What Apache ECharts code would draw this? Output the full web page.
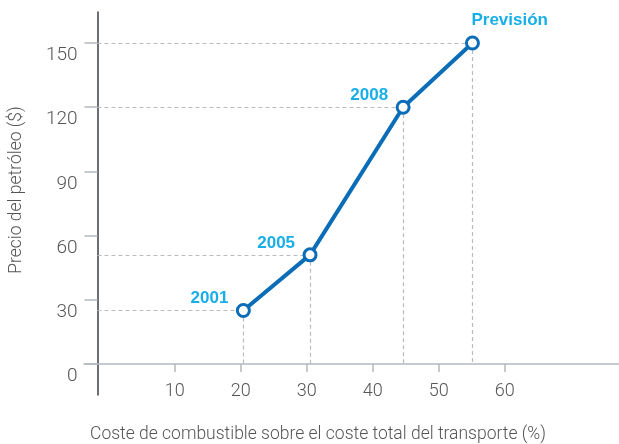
<!DOCTYPE html>
<html>
<head>
<meta charset="utf-8">
<script src="https://cdn.jsdelivr.net/npm/echarts@6/dist/echarts.min.js"></script>
<style>
  html, body { margin: 0; padding: 0; background: #fff; }
  #chart { width: 619px; height: 444px; }
</style>
</head>
<body>
<div id="chart"></div>
<script>
// share of fuel in total transport cost (%) vs oil price ($)
var costeCombustible = [20.4, 30.5, 44.6, 55.1];
var precioPetroleo = [25, 51, 120, 150];
var etiquetas = ['2001', '2005', '2008', 'Previsión'];
var ticksX = [10, 20, 30, 40, 50, 60];
var ticksY = [0, 30, 60, 90, 120, 150];

var ejeY = -1.7; // where the y axis line crosses the x scale

var chart = echarts.init(document.getElementById('chart'));

var puntos = [];
var guias = [];
for (var i = 0; i < costeCombustible.length; i++) {
    var ultimo = i === costeCombustible.length - 1;
    puntos.push({
        value: [costeCombustible[i], precioPetroleo[i]],
        label: {
            show: true,
            formatter: etiquetas[i],
            position: 'inside',
            align: ultimo ? 'left' : 'right',
            verticalAlign: 'middle',
            offset: ultimo ? [-1, -23] : [-15, -12]
        }
    });
    guias.push([{ coord: [ejeY, precioPetroleo[i]] }, { coord: [costeCombustible[i], precioPetroleo[i]] }]);
    guias.push([{ coord: [costeCombustible[i], precioPetroleo[i]] }, { coord: [costeCombustible[i], 0] }]);
}

var textoEje = { fontFamily: 'Roboto', fontWeight: 300, color: '#555' };

chart.setOption({
    animation: false,
    grid: { left: 84, right: 0, top: 12, bottom: 49 },
    xAxis: {
        type: 'value',
        min: -3.74,
        max: 77.3,
        axisLine: { onZero: true, lineStyle: { color: '#b4b9be', width: 1.5 } },
        axisTick: { customValues: ticksX, length: 8, lineStyle: { color: '#b4b9be', width: 1.5 } },
        axisLabel: Object.assign({ customValues: ticksX, fontSize: 18, margin: -13 }, textoEje),
        splitLine: { show: false }
    },
    yAxis: {
        type: 'value',
        min: -14.5,
        max: 164.5,
        offset: -13.5,
        axisLine: { onZero: false, lineStyle: { color: '#3a4048', width: 1.5 } },
        axisTick: { customValues: ticksY, length: 13, lineStyle: { color: '#b4b9be', width: 1.5 } },
        axisLabel: Object.assign({ customValues: ticksY, fontSize: 19, margin: 20, verticalAlign: 'top', padding: [3, 0, 0, 0] }, textoEje),
        splitLine: { show: false }
    },
    graphic: [
        {
            type: 'text',
            x: 17, y: 190, rotation: Math.PI / 2,
            style: { text: 'Precio del petróleo ($)', font: '300 17.5px Roboto', fill: '#555', align: 'center', verticalAlign: 'middle' }
        },
        {
            type: 'text',
            x: 318, y: 435,
            style: { text: 'Coste de combustible sobre el coste total del transporte (%)', font: '300 17.5px Roboto', fill: '#555', align: 'center', verticalAlign: 'middle' }
        }
    ],
    series: [{
        type: 'line',
        data: puntos,
        z: 3,
        symbol: 'circle',
        symbolSize: 12,
        showAllSymbol: true,
        lineStyle: { color: '#0b6db7', width: 4 },
        itemStyle: { color: '#fff', borderColor: '#0b6db7', borderWidth: 3 },
        label: { fontFamily: 'Liberation Sans', fontWeight: 'bold', fontSize: 17, color: '#18aee8' },
        markLine: {
            silent: true,
            z: 1,
            symbol: 'none',
            label: { show: false },
            lineStyle: { color: '#b8bcc0', type: [4, 3], width: 1.2 },
            emphasis: { disabled: true },
            data: guias
        }
    }]
});
</script>
</body>
</html>
